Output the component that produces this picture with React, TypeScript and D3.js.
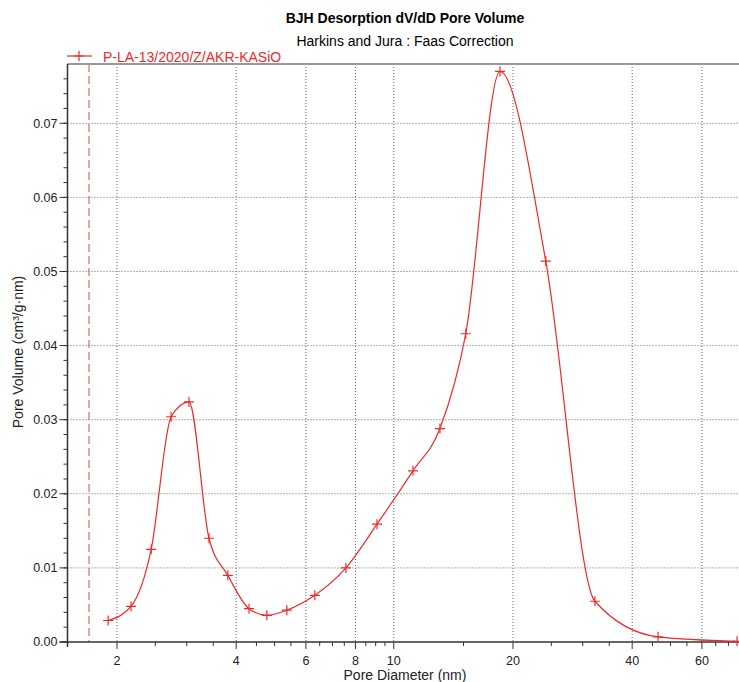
import React from 'react'
import * as d3 from 'd3'

// pore diameter (nm) and dV/dD pore volume (cm³/g·nm)
const diameters = [1.9, 2.17, 2.44, 2.74, 3.04, 3.415, 3.81, 4.31, 4.78, 5.37, 6.32, 7.57, 9.07, 11.18, 13.08, 15.2, 18.55, 24.2, 32.2, 46.5, 73.6]
const volumes = [0.0029, 0.0048, 0.0125, 0.0304, 0.0324, 0.014, 0.009, 0.0045, 0.0036, 0.0043, 0.0063, 0.01, 0.0159, 0.0231, 0.0288, 0.0416, 0.077, 0.0514, 0.0055, 0.0007, 0.0001]

const xMajor = [2, 4, 6, 8, 10, 20, 40, 60]
const xMinor = [2.5, 3, 3.5, 4.5, 5, 5.5, 6.5, 7, 7.5, 8.5, 9, 9.5, 15, 25, 30, 35, 45, 50, 55, 65, 70, 75]
const yMajor = [0, 0.01, 0.02, 0.03, 0.04, 0.05, 0.06, 0.07]
const yMinor = d3.range(0, 39).map(i => i * 0.002)

const seriesName = 'P-LA-13/2020/Z/AKR-KASiO'
const limitDiameter = 1.7

const width = 739
const height = 682
const left = 67.5
const top = 64
const bottom = 642
const decade = 396
const centerX = 405

const x = d3
  .scaleLog()
  .domain([1.5, 80])
  .range([left, left + decade * Math.log10(80 / 1.5)])

const y = d3.scaleLinear().domain([0, 0.078]).range([bottom, top])

const red = '#ec2a2a'
const font = 'Liberation Sans, Arial, sans-serif'

const points = diameters.map((d, i) => [x(d), y(volumes[i])] as [number, number])

const line = d3.line().curve(d3.curveMonotoneX)

const Plus = ({ cx, cy }: { cx: number; cy: number }) => (
  <path d={`M${cx - 5},${cy}H${cx + 5}M${cx},${cy - 5}V${cy + 5}`} stroke={red} strokeWidth={1.2} fill="none" />
)

export default function App() {
  const right = x.range()[1]
  return (
    <svg
      width={width}
      height={height}
      style={{ position: 'absolute', left: 0, top: 0 }}
      fontFamily={font}
    >
      <rect width={width} height={height} fill="white" />
      <text x={centerX} y={23} textAnchor="middle" fontSize={14} fontWeight="bold">
        BJH Desorption dV/dD Pore Volume
      </text>
      <text x={centerX} y={46} textAnchor="middle" fontSize={14}>
        Harkins and Jura : Faas Correction
      </text>

      {/* legend */}
      <line x1={67} x2={92} y1={56} y2={56} stroke={red} strokeWidth={1.2} />
      <Plus cx={79} cy={56} />
      <text x={103} y={61.5} fontSize={14} fill={red}>
        {seriesName}
      </text>

      {/* grid */}
      {xMajor.map(d => (
        <line key={'gx' + d} x1={x(d)} x2={x(d)} y1={top} y2={bottom} stroke="#666" strokeDasharray="1,2" />
      ))}
      {yMajor.slice(1).map(d => (
        <line key={'gy' + d} x1={left} x2={right} y1={y(d)} y2={y(d)} stroke="#666" strokeDasharray="1,2" />
      ))}

      {/* lower limit */}
      <line
        x1={x(limitDiameter)}
        x2={x(limitDiameter)}
        y1={top}
        y2={bottom}
        stroke="#d86a6a"
        strokeWidth={1.2}
        strokeDasharray="8,4"
      />

      {/* frame */}
      <line x1={left} x2={right} y1={top} y2={top} stroke="#999" strokeWidth={2} />
      <line x1={left} x2={left} y1={top} y2={bottom + 5} stroke="#333" strokeWidth={1.5} />
      <line x1={left - 8} x2={right} y1={bottom} y2={bottom} stroke="#333" strokeWidth={1.5} />

      {/* y axis */}
      {yMinor.map((d, i) => (
        <line key={'ym' + i} x1={left - 4} x2={left} y1={y(d)} y2={y(d)} stroke="#333" />
      ))}
      {yMajor.map(d => (
        <g key={'yt' + d}>
          <line x1={left - 8} x2={left} y1={y(d)} y2={y(d)} stroke="#333" />
          <text x={left - 10} y={y(d)} dy="0.35em" textAnchor="end" fontSize={12.5} fill="#222">
            {d3.format('.2f')(d)}
          </text>
        </g>
      ))}
      <text transform={`translate(23,352) rotate(-90)`} textAnchor="middle" fontSize={14} fill="#222">
        Pore Volume (cm³/g·nm)
      </text>

      {/* x axis */}
      {xMinor.map(d => (
        <line key={'xm' + d} x1={x(d)} x2={x(d)} y1={bottom} y2={bottom + 4} stroke="#333" />
      ))}
      {xMajor.map(d => (
        <g key={'xt' + d}>
          <line x1={x(d)} x2={x(d)} y1={bottom} y2={bottom + 7} stroke="#333" />
          <text x={x(d)} y={664.5} textAnchor="middle" fontSize={12.5} fill="#222">
            {d}
          </text>
        </g>
      ))}
      <text x={centerX} y={680} textAnchor="middle" fontSize={14} fill="#222">
        Pore Diameter (nm)
      </text>

      {/* series */}
      <path d={line(points) || ''} fill="none" stroke={red} strokeWidth={1.2} />
      {points.map((p, i) => (
        <Plus key={'p' + i} cx={p[0]} cy={p[1]} />
      ))}
    </svg>
  )
}
